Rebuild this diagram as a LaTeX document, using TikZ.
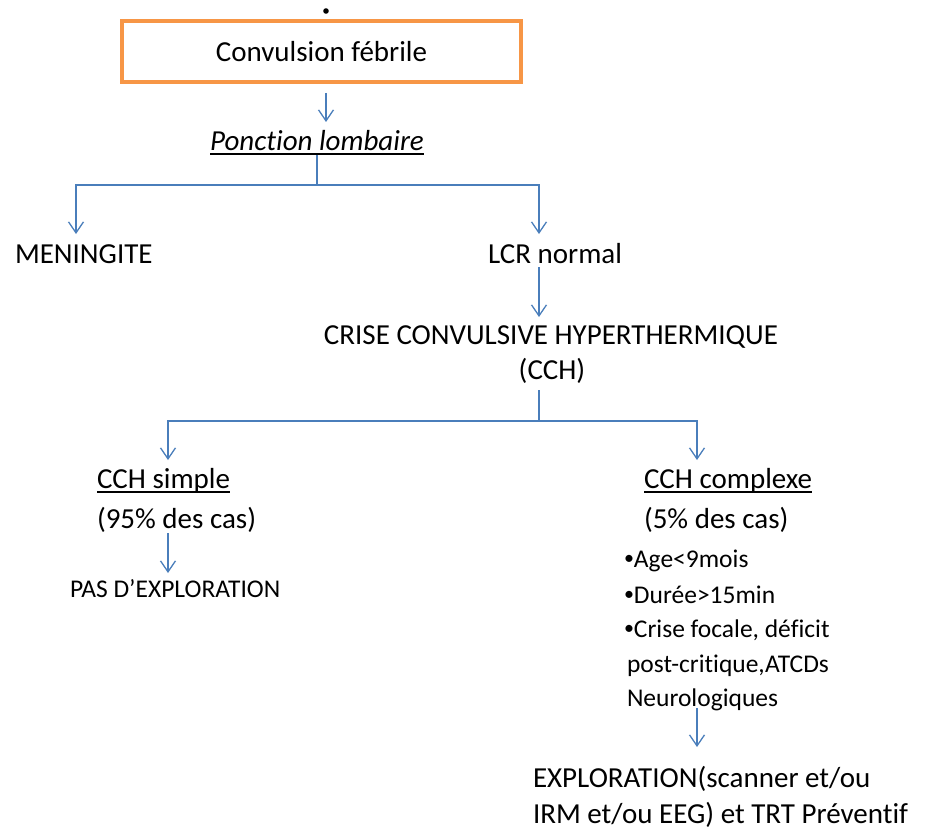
\documentclass[tikz,border=0pt]{standalone}
\usepackage{fontspec}
\setmainfont{Carlito}[Ligatures=NoCommon]
\usetikzlibrary{arrows.meta}
\definecolor{boxorange}{HTML}{F79646}
\definecolor{linkblue}{HTML}{4A7EBB}
\newcommand\smbullet{{\fontsize{20}{20}\selectfont\raisebox{2.6pt}{•}}}
\begin{document}
\begin{tikzpicture}[x=1pt,y=-1pt,
  txt/.style={inner sep=0pt, outer sep=0pt, anchor=base west, font=\fontsize{29}{36}\selectfont},
  txtc/.style={txt, anchor=base},
  small/.style={txt, font=\fontsize{25.5}{35}\selectfont},
  startbox/.style={draw=boxorange, line width=3.2pt, inner sep=0pt, outer sep=0pt,
    minimum width=399pt, minimum height=61pt, font=\fontsize{29}{36}\selectfont},
  link/.style={draw=linkblue, line width=1.3pt},
  arr/.style={link, -{Straight Barb[length=11pt,width=15pt,line width=1.3pt]}},
  uline/.style={draw=black, line width=1.3pt}]
\useasboundingbox (0,0) rectangle (932,832);
% nodes
\fill (326,11) circle (2.8pt);
\node[startbox] (conv) at (321.5,51.5) {Convulsion fébrile};
\node[txtc, font=\fontsize{29}{36}\selectfont\itshape] (pl) at (317,151) {Ponction lombaire};
\node[txt] (men) at (15,263) {MENINGITE};
\node[txt] (lcr) at (488,263) {LCR normal};
\node[txtc] (cch1) at (551,344) {CRISE CONVULSIVE HYPERTHERMIQUE};
\node[txtc] (cch2) at (552,379) {(CCH)};
\node[txt] (simp) at (97,488) {CCH simple};
\node[txt] (simp2) at (97,528) {(95\% des cas)};
\node[txt] (comp) at (644,488) {CCH complexe};
\node[txt] (comp2) at (644,528) {(5\% des cas)};
\node[small] (pas) at (70,597) {PAS D’EXPLORATION};
\node[small] (b1) at (624,567) {\smbullet Age<9mois};
\node[small] (b2) at (624,603) {\smbullet Durée>15min};
\node[small] (b3) at (624,637) {\smbullet Crise focale, déficit};
\node[small] (b4) at (627,672) {post-critique,ATCDs};
\node[small] (b5) at (627,706) {Neurologiques};
\node[txt] (exp1) at (533,787) {EXPLORATION(scanner et/ou};
\node[txt] (exp2) at (533,823) {IRM et/ou EEG) et TRT Préventif};
% underlines
\draw[uline] ([yshift=-3pt]pl.base west) -- ([yshift=-3pt]pl.base east);
\draw[uline] ([yshift=-4pt]simp.base west) -- ([yshift=-4pt]simp.base east);
\draw[uline] ([yshift=-4pt]comp.base west) -- ([yshift=-4pt]comp.base east);
% junctions and arrow tips
\coordinate (a1) at (326,122);
\coordinate (j1) at (317,185);
\coordinate (tA) at (76,234);
\coordinate (tB) at (539,234);
\coordinate (a2) at (539,317);
\coordinate (j2) at (539,421);
\coordinate (tC) at (168,460);
\coordinate (tD) at (697,460);
\coordinate (a3) at (168,573);
\coordinate (a4) at (697,747);
% connectors
\draw[arr] (conv.south -| a1) ++(0,11) -- (a1);
\draw[link] (pl.base -| j1) ++(0,4) -- (j1);
\draw[arr] (j1) -| (tA);
\draw[arr] (j1) -| (tB);
\draw[arr] (lcr.base -| a2) ++(0,4) -- (a2);
\draw[link] (cch2.base -| j2) ++(0,11) -- (j2);
\draw[arr] (j2) -| (tC);
\draw[arr] (j2) -| (tD);
\draw[arr] (simp2.base -| a3) ++(0,5) -- (a3);
\draw[arr] (b5.base -| a4) ++(0,2) -- (a4);
\end{tikzpicture}
\end{document}
